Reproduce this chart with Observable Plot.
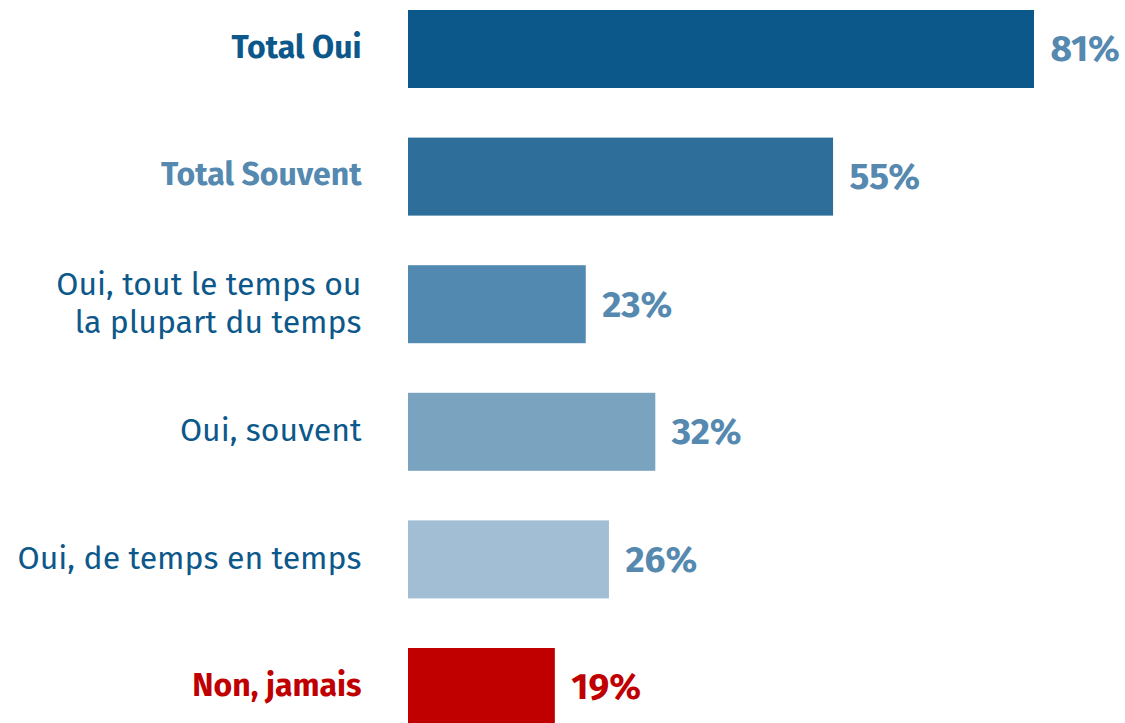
<!DOCTYPE html>
<html>
<head>
<meta charset="utf-8">
<script src="https://cdn.jsdelivr.net/npm/d3@7"></script>
<script src="https://cdn.jsdelivr.net/npm/@observablehq/plot@0.6"></script>
<style>
  html, body { margin: 0; padding: 0; background: #fff; overflow: hidden; }
  #chart svg { overflow: hidden; }
</style>
</head>
<body>
<div id="chart"></div>
<script>
const categories = [
  "Total Oui",
  "Total Souvent",
  "Oui, tout le temps ou\nla plupart du temps",
  "Oui, souvent",
  "Oui, de temps en temps",
  "Non, jamais"
];
const values = [81, 55, 23, 32, 26, 19];
const barColors = ["#0d588a", "#2d6e9a", "#5289b0", "#7aa3c0", "#a2bed4", "#c00000"];
const labelColors = ["#0d588a", "#5589b0", "#0d588a", "#0d588a", "#0d588a", "#c00000"];
const valueColors = ["#5589b0", "#5589b0", "#5589b0", "#5589b0", "#5589b0", "#c00000"];
const boldLabels = [true, true, false, false, false, true];

const rows = categories.map((c, i) => ({
  category: c,
  value: values[i],
  bar: barColors[i],
  labelColor: labelColors[i],
  valueColor: valueColors[i],
  bold: boldLabels[i]
}));

const font = "'Fira Sans', 'Open Sans', sans-serif";

const chart = Plot.plot({
  width: 1125,
  height: 723,
  marginLeft: 408,
  marginRight: 91,
  marginTop: 0,
  marginBottom: 0,
  style: { fontFamily: font, background: "#fff" },
  x: { domain: [0, 81], axis: null },
  y: { domain: categories, range: [0, 736], paddingInner: 0.3887, paddingOuter: 0.0784, round: false, axis: null },
  marks: [
    Plot.barX(rows, { y: "category", x: "value", fill: "bar" }),
    Plot.text(rows.filter(d => d.bold), {
      y: "category", x: 0, text: "category", fill: "labelColor",
      textAnchor: "end", dx: -47, dy: -4, fontSize: 32, fontWeight: "bold", lineHeight: 1.18
    }),
    Plot.text(rows.filter(d => !d.bold), {
      y: "category", x: 0, text: "category", fill: "labelColor",
      textAnchor: "end", dx: -47, dy: -3, fontSize: 32, fontWeight: "normal", lineHeight: 1.18
    }),
    Plot.text(rows, {
      y: "category", x: "value", text: d => d.value + "%", fill: "valueColor",
      textAnchor: "start", dx: 16, fontSize: 37, fontWeight: "bold"
    })
  ]
});
document.getElementById("chart").appendChild(chart);
</script>
</body>
</html>
